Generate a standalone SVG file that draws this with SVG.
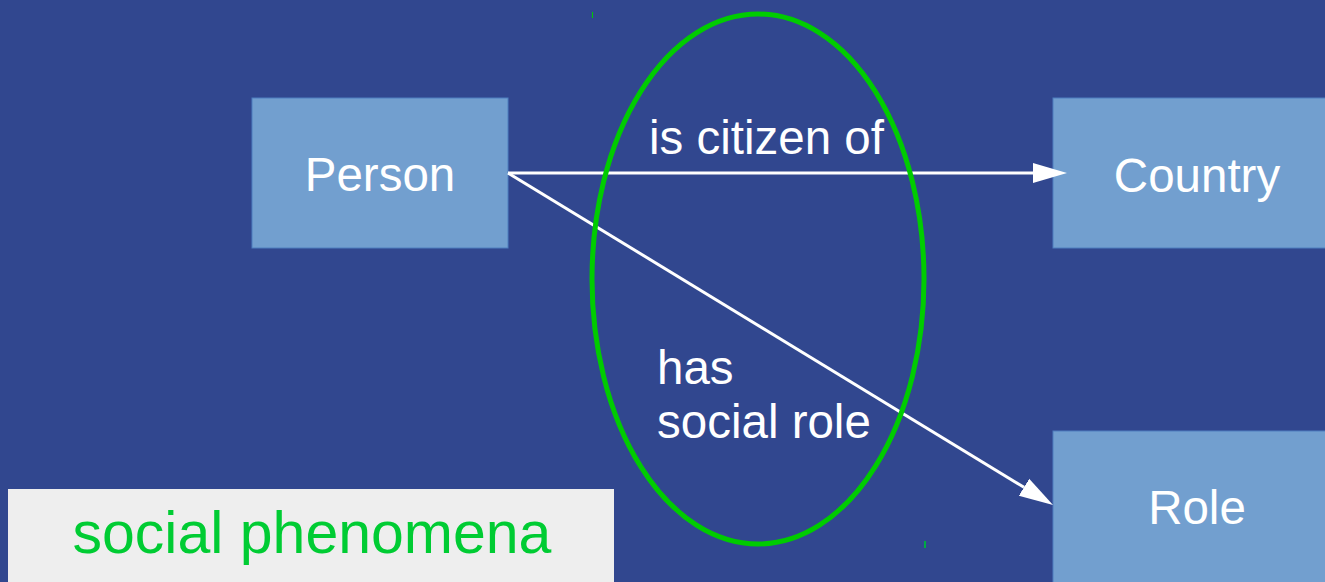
<svg xmlns="http://www.w3.org/2000/svg" width="1325" height="582" viewBox="0 0 1325 582">
<defs>
<style>
.box{fill:#729fcf;stroke:#4f7fbf;stroke-width:1}
.lbl{font-family:"Liberation Sans",Arial,sans-serif;font-size:47.5px;fill:#ffffff}
.conn{stroke:#ffffff;stroke-width:3;fill:none}
</style>
<marker id="ah" markerUnits="userSpaceOnUse" markerWidth="35" markerHeight="22" refX="0" refY="10" orient="auto" viewBox="0 0 35 20">
<path d="M0,0 L34,10 L0,20 z" fill="#ffffff"/>
</marker>
</defs>
<rect x="0" y="0" width="1325" height="582" fill="#31478f"/>
<g id="person">
<rect class="box" x="252" y="98" width="256" height="150"/>
<text class="lbl" x="380" y="191" text-anchor="middle">Person</text>
</g>
<g id="country">
<rect class="box" x="1053" y="98" width="280" height="150"/>
<text class="lbl" x="1197" y="192" text-anchor="middle">Country</text>
</g>
<g id="role">
<rect class="box" x="1053" y="431" width="280" height="160"/>
<text class="lbl" x="1197" y="524" text-anchor="middle">Role</text>
</g>
<g id="connectors">
<line class="conn" x1="508" y1="173" x2="1033" y2="173" marker-end="url(#ah)"/>
<line class="conn" x1="508" y1="173" x2="1024" y2="487.3" marker-end="url(#ah)"/>
<text class="lbl" x="649" y="154">is citizen of</text>
<text class="lbl" x="657" y="384">has</text>
<text class="lbl" x="657" y="438">social role</text>
</g>
<g id="phenomenon">
<ellipse cx="758" cy="279" rx="166" ry="265" fill="none" stroke="#00cc00" stroke-width="5"/>
<rect x="592" y="12" width="1" height="6" fill="#00cc00"/>
<rect x="924" y="541" width="2" height="7" fill="#00aa44"/>
</g>
<g id="legend">
<rect x="8" y="489" width="606" height="100" fill="#eeeeee"/>
<text x="312" y="553" text-anchor="middle" font-family="'Liberation Sans',Arial,sans-serif" font-size="59" fill="#00cc33">social phenomena</text>
</g>
</svg>
